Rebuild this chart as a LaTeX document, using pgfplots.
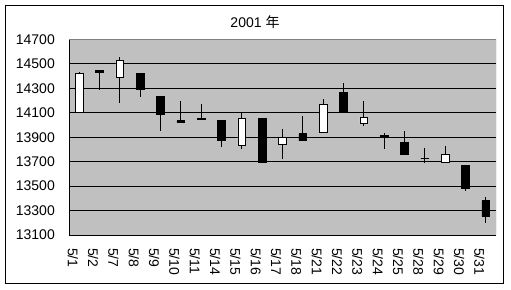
\documentclass[border=0pt]{standalone}
\usepackage{fontspec}
\setmainfont{Liberation Sans}
\newfontfamily\cjk{Noto Sans CJK JP}
\usepackage{pgfplots}
\usepackage{pgfplotstable}
\pgfplotsset{compat=1.18}
\definecolor{bgGray}{HTML}{C0C0C0}
\definecolor{frameGray}{HTML}{808080}

% x: category index; o: open, h: high, l: low, c: close
\pgfplotstableread{
x o h l c
0 14100 14430 14100 14420
1 14445 14445 14290 14430
2 14390 14560 14180 14530
3 14420 14420 14230 14290
4 14230 14230 13950 14090
5 14035 14200 14020 14022
6 14055 14170 14045 14042
7 14040 14040 13820 13870
8 13830 14100 13800 14050
9 14050 14050 13690 13690
10 13840 13970 13720 13900
11 13930 14070 13870 13870
12 13940 14210 13940 14170
13 14270 14340 14100 14100
14 14010 14200 13990 14060
15 13912 13935 13800 13898
16 13860 13950 13760 13760
17 13730 13810 13690 13724
18 13690 13830 13690 13760
19 13670 13670 13460 13480
20 13380 13410 13200 13250
}\candles

\begin{document}
\begin{tikzpicture}
\path[use as bounding box] (0,0) rectangle (511bp,-290bp);
\draw[black, line width=1bp] (5bp,-5bp) rectangle (503.5bp,-283.5bp);
\node[font=\fontsize{14bp}{16bp}\selectfont, inner sep=0pt] at (255bp,-22bp) {2001 {\cjk 年}};

\begin{axis}[
  at={(69bp,-235bp)}, anchor=south west,
  scale only axis, width=427bp, height=195.5bp,
  xmin=-0.5, xmax=20.5, ymin=13100, ymax=14700,
  scaled y ticks=false,
  axis background/.style={fill=bgGray},
  axis line style={draw=none},
  ytick={13100,13300,...,14700},
  yticklabels={13100,13300,13500,13700,13900,14100,14300,14500,14700},
  ymajorgrids,
  grid style={black, line width=0.9bp},
  ytick style={draw=none},
  xtick={0,...,20},
  xticklabels={5/1,5/2,5/7,5/8,5/9,5/10,5/11,5/14,5/15,5/16,5/17,5/18,5/21,5/22,5/23,5/24,5/25,5/28,5/29,5/30,5/31},
  xtick style={draw=none},
  minor xtick={-0.5,0.5,...,20.5},
  xtick pos=left,
  tick align=inside,
  minor tick length=3.5bp,
  minor tick style={black, line width=0.8bp},
  tick label style={font=\fontsize{14bp}{16bp}\selectfont},
  yticklabel style={anchor=east, inner sep=0pt},
  yticklabel shift=14bp,
  xticklabel style={rotate=-90, anchor=north west, inner sep=1bp},
  xticklabel shift=12bp,
]
\addplot[draw=none, mark=none, forget plot,
  error bars/.cd, y dir=both, y explicit, error mark=none,
  error bar style={draw=black, line width=1bp, solid}]
  table[x=x, y expr={(\thisrow{h}+\thisrow{l})/2}, y error expr={(\thisrow{h}-\thisrow{l})/2}] {\candles};
\draw[frameGray, line width=0.9bp] (rel axis cs:0,1) -- (rel axis cs:1,1) -- (rel axis cs:1,0);
\draw[black, line width=0.9bp] (rel axis cs:0,1) -- (rel axis cs:0,0) -- (rel axis cs:1,0);
\end{axis}

\begin{axis}[
  at={(69bp,-235bp)}, anchor=south west,
  scale only axis, width=427bp, height=195.5bp,
  xmin=-0.5, xmax=20.5, ymin=13100, ymax=14700,
  scaled y ticks=false,
  hide axis,
  ybar stacked, bar width=7.7bp,
]
\addplot[draw=none, fill=none] table[x=x, y expr={min(\thisrow{o},\thisrow{c})}] {\candles};
\addplot[draw=black, fill=white, line width=0.9bp] table[x=x, y expr={max(\thisrow{c}-\thisrow{o},0)}] {\candles};
\addplot[draw=black, fill=black, line width=0.9bp] table[x=x, y expr={max(\thisrow{o}-\thisrow{c},0)}] {\candles};
\end{axis}
\end{tikzpicture}
\end{document}
